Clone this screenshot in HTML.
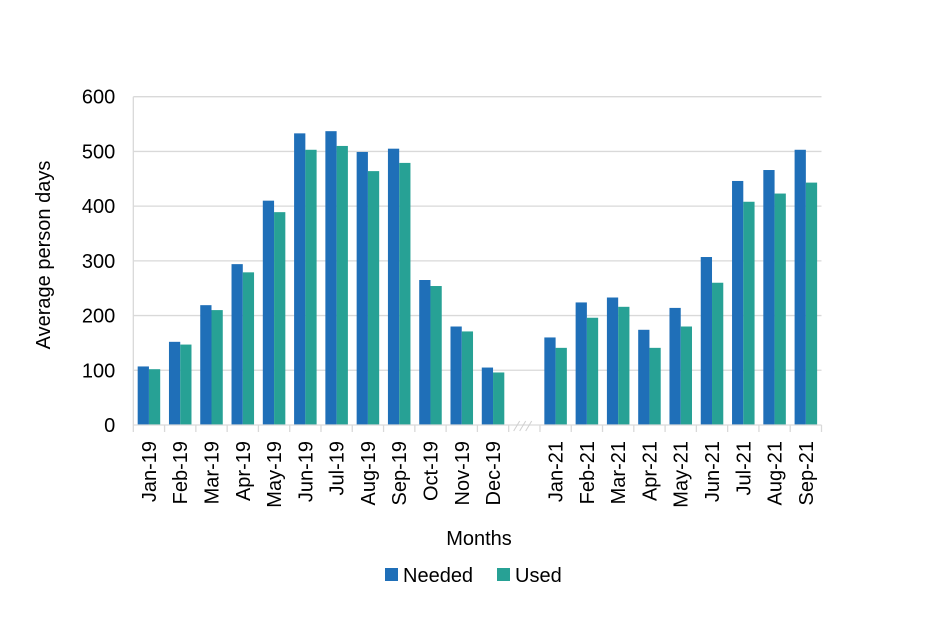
<!DOCTYPE html>
<html><head><meta charset="utf-8"><style>
body{margin:0;background:#fff;}
svg text{font-family:"Liberation Sans",Arial,sans-serif;fill:#000;}
</style></head><body>
<svg width="952" height="635" viewBox="0 0 952 635" xmlns="http://www.w3.org/2000/svg">
<g id="grid"></g>
<g id="bars"></g>
<g id="axes"></g>
<text x="50" y="255" font-size="20" text-anchor="middle" transform="rotate(-90 50 255)">Average person days</text>
<text x="479" y="545" font-size="20" text-anchor="middle">Months</text>
<g>
<g><rect x="385" y="568" width="13" height="13" fill="#1f6fb8"/><text x="403" y="582" font-size="20">Needed</text></g>
<g><rect x="497" y="568" width="13" height="13" fill="#27a195"/><text x="515" y="582" font-size="20">Used</text></g>
</g>
</svg>
<script>
const categories=["Jan-19","Feb-19","Mar-19","Apr-19","May-19","Jun-19","Jul-19","Aug-19","Sep-19","Oct-19","Nov-19","Dec-19","","Jan-21","Feb-21","Mar-21","Apr-21","May-21","Jun-21","Jul-21","Aug-21","Sep-21"];
const needed=[107,152,219,294,410,533,537,499,505,265,180,105,null,160,224,233,174,214,307,446,466,503];
const used=[102,147,210,279,389,503,510,464,479,254,171,96,null,141,196,216,141,180,260,408,423,443];
const yTicks=[0,100,200,300,400,500,600];
const NS="http://www.w3.org/2000/svg";
const x0=133.3,x1=821.5,y0=425,y1=96.7,ymax=600;
const slot=(x1-x0)/categories.length;
const y=v=>y0-(v/ymax)*(y0-y1);
const xc=i=>x0+slot*(i+0.5);
function mk(t,a,p){const e=document.createElementNS(NS,t);for(const k in a)e.setAttribute(k,a[k]);p.appendChild(e);return e;}
const grid=document.getElementById('grid'),bars=document.getElementById('bars'),axes=document.getElementById('axes');
yTicks.forEach(t=>{
  if(t>0){const l=mk('line',{x1:x0,x2:x1,y1:y(t),y2:y(t),stroke:'#d9d9d9','stroke-width':1.3},grid);
  
  }
  const tx=mk('text',{x:x0-18,y:y(t)+7,'font-size':20,'text-anchor':'end'},axes);tx.textContent=t;
  
  
});
mk('line',{x1:x0,x2:x0,y1:y1,y2:y0,stroke:'#d9d9d9','stroke-width':1.3},axes);
mk('line',{x1:x0,x2:x1,y1:y0,y2:y0,stroke:'#d9d9d9','stroke-width':1.3},axes);
const bw=slot*0.36;
for(let i=0;i<=categories.length;i++){
  const xx=x0+slot*i;
  mk('line',{x1:xx,x2:xx,y1:y0,y2:y0+7,stroke:'#d9d9d9','stroke-width':1.3},axes);
}
// axis break marks
const gi=categories.indexOf("");
for(let k=0;k<3;k++){const bx=x0+slot*gi+5+k*6;mk('line',{x1:bx,y1:y0+6,x2:bx+6,y2:y0-4,stroke:'#d0d0d0','stroke-width':1},axes);}
categories.forEach((c,i)=>{
  if(needed[i]!=null){
    const r1=mk('rect',{x:xc(i)-bw,y:y(needed[i]),width:bw,height:y0-y(needed[i]),fill:'#1f6fb8'},bars);
    
    
    const r2=mk('rect',{x:xc(i),y:y(used[i]),width:bw,height:y0-y(used[i]),fill:'#27a195'},bars);
    
    
  }
  if(c){
    const tx=mk('text',{x:0,y:0,'font-size':20,'text-anchor':'end',transform:`translate(${xc(i)+7},441) rotate(-90)`},axes);
    tx.textContent=c;
    
    
  }
});
</script>
</body></html>
